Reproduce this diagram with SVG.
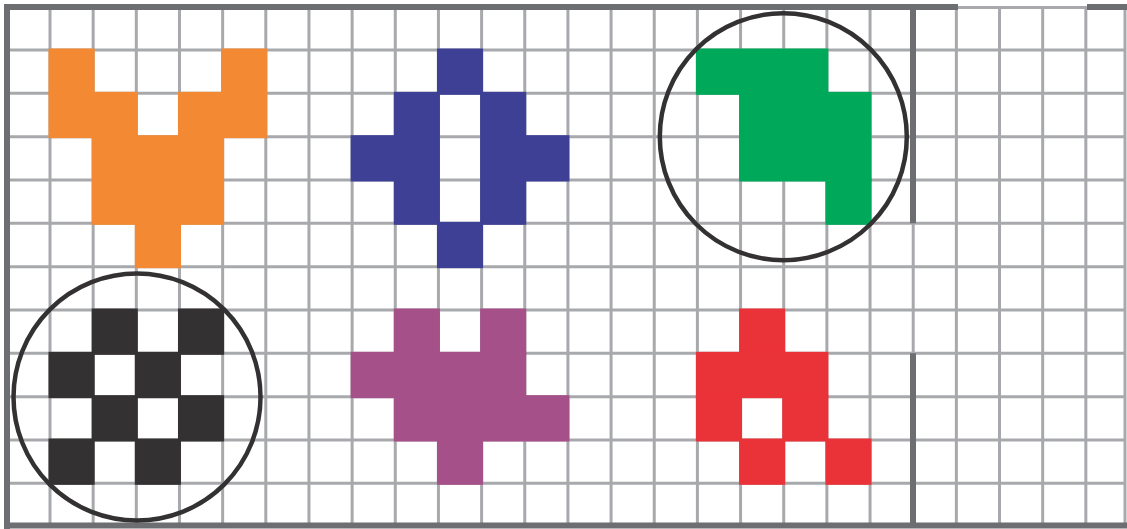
<svg xmlns="http://www.w3.org/2000/svg" width="1127" height="529" viewBox="0 0 1127 529">
<defs>
<style>
.g{stroke:#a7a9ac;stroke-width:3;fill:none}
.b{stroke:#6d6e71;stroke-width:6;fill:none}
.ring{fill:none;stroke:#333132;stroke-width:4.5}
.o{fill:#f38a33}
.bl{fill:#3e4095}
.gr{fill:#00a85a}
.k{fill:#333132}
.p{fill:#a65089}
.r{fill:#ea3239}
</style>
</defs>
<rect width="1127" height="529" fill="#ffffff"/>
<g id="grid">
<path class="g" d="M50,7V525M93.16,7V525M136.32,7V525M179.48,7V525M222.64,7V525M265.8,7V525M308.96,7V525M352.12,7V525M395.28,7V525M438.44,7V525M481.6,7V525M524.76,7V525M567.92,7V525M611.08,7V525M654.24,7V525M697.4,7V525M740.56,7V525M783.72,7V525M826.88,7V525M870.04,7V525M913.2,7V525M956.36,7V525M999.52,7V525M1042.68,7V525M1085.84,7V525M1125,7V525"/>
<path class="g" d="M7,7.5H1127M7,50H1125M7,93.33H1125M7,136.67H1125M7,180H1125M7,223.33H1125M7,266.67H1125M7,310H1125M7,353.33H1125M7,396.67H1125M7,440H1125M7,483.33H1125"/>
</g>
<g id="frame">
<path class="b" d="M7,4V529M4,7H958M1087,7H1127M4,525.5H1127M913,7V223.3M913,353.3V525"/>
</g>
<g id="orange-shape">
<rect class="o" x="48.5" y="48.5" width="46.16" height="46.33"/>
<rect class="o" x="221.14" y="48.5" width="46.16" height="46.33"/>
<rect class="o" x="48.5" y="91.83" width="89.32" height="46.33"/>
<rect class="o" x="177.98" y="91.83" width="89.32" height="46.33"/>
<rect class="o" x="91.66" y="135.17" width="132.48" height="89.67"/>
<rect class="o" x="134.82" y="221.83" width="46.16" height="46.33"/>
</g>
<g id="blue-shape">
<rect class="bl" x="436.94" y="48.5" width="46.16" height="46.33"/>
<rect class="bl" x="393.78" y="91.83" width="46.16" height="133"/>
<rect class="bl" x="480.1" y="91.83" width="46.16" height="133"/>
<rect class="bl" x="350.62" y="135.17" width="46.16" height="46.33"/>
<rect class="bl" x="523.26" y="135.17" width="46.16" height="46.33"/>
<rect class="bl" x="436.94" y="221.83" width="46.16" height="46.33"/>
</g>
<g id="green-shape">
<rect class="gr" x="695.9" y="48.5" width="132.48" height="46.33"/>
<rect class="gr" x="739.06" y="91.83" width="132.48" height="89.67"/>
<rect class="gr" x="825.38" y="178.5" width="46.16" height="46.33"/>
<circle class="ring" cx="783.3" cy="136.7" r="123.5"/>
</g>
<g id="checker-shape">
<rect class="k" x="91.66" y="308.5" width="46.16" height="46.33"/>
<rect class="k" x="177.98" y="308.5" width="46.16" height="46.33"/>
<rect class="k" x="48.5" y="351.83" width="46.16" height="46.33"/>
<rect class="k" x="134.82" y="351.83" width="46.16" height="46.33"/>
<rect class="k" x="91.66" y="395.17" width="46.16" height="46.33"/>
<rect class="k" x="177.98" y="395.17" width="46.16" height="46.33"/>
<rect class="k" x="48.5" y="438.5" width="46.16" height="46.33"/>
<rect class="k" x="134.82" y="438.5" width="46.16" height="46.33"/>
<circle class="ring" cx="137" cy="397" r="123.5"/>
</g>
<g id="purple-shape">
<rect class="p" x="393.78" y="308.5" width="46.16" height="46.33"/>
<rect class="p" x="480.1" y="308.5" width="46.16" height="46.33"/>
<rect class="p" x="350.62" y="351.83" width="175.64" height="46.33"/>
<rect class="p" x="393.78" y="395.17" width="175.64" height="46.33"/>
<rect class="p" x="436.94" y="438.5" width="46.16" height="46.33"/>
</g>
<g id="red-shape">
<rect class="r" x="739.06" y="308.5" width="46.16" height="46.33"/>
<rect class="r" x="695.9" y="351.83" width="132.48" height="46.33"/>
<rect class="r" x="695.9" y="395.17" width="46.16" height="46.33"/>
<rect class="r" x="782.22" y="395.17" width="46.16" height="46.33"/>
<rect class="r" x="739.06" y="438.5" width="46.16" height="46.33"/>
<rect class="r" x="825.38" y="438.5" width="46.16" height="46.33"/>
</g>
</svg>
